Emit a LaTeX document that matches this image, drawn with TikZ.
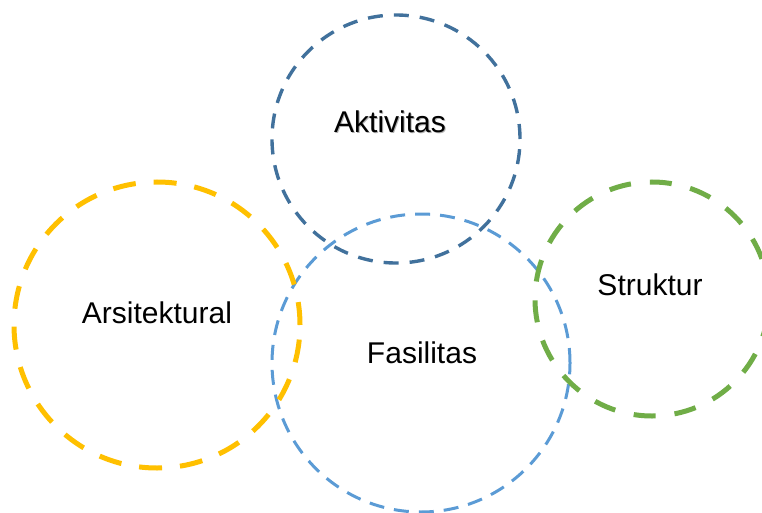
\documentclass[tikz,border=0pt]{standalone}
\usepackage{fontspec}
\setmainfont{Liberation Sans}

\definecolor{aktblue}{HTML}{41719C}
\definecolor{fasblue}{HTML}{5B9BD5}
\definecolor{arsyellow}{HTML}{FFC000}
\definecolor{strgreen}{HTML}{70AD47}

\def\setakt{(396,139) circle (124pt)}
\def\setars{(157,325) circle (143pt)}
\def\setfas{(421,363) circle (149pt)}
\def\setstr{(652,299) circle (117pt)}

\newcommand{\shadowtext}[1]{\makebox[0pt][l]{\raisebox{-1pt}{\hspace{1pt}\textcolor{black!30}{#1}}}#1}
\newcommand{\plaintext}[1]{#1}

\begin{document}
\begin{tikzpicture}[x=1pt,y=-1pt]
     \tikzstyle{element}=[anchor=base, inner sep=0pt, font=\fontsize{30}{36}\selectfont]
    \useasboundingbox (0,0) rectangle (762,513);
    \draw [fasblue, line width=3pt, dash pattern=on 15pt off 10pt] \setfas;
    \draw [aktblue, line width=3.4pt, dash pattern=on 15pt off 11pt] \setakt;
    \draw [arsyellow, line width=5pt, dash pattern=on 23pt off 18pt] \setars;
    \draw [strgreen, line width=5pt, dash pattern=on 22pt off 19pt] \setstr;
    \foreach \t/\x/\y/\f in { Aktivitas/390/133/\shadowtext, Arsitektural/157/323/\plaintext,
    Fasilitas/422/363/\plaintext, Struktur/650/295/\plaintext }
        \node[element] (\t) at (\x,\y) {\f{\t}};
\end{tikzpicture}
\end{document}
